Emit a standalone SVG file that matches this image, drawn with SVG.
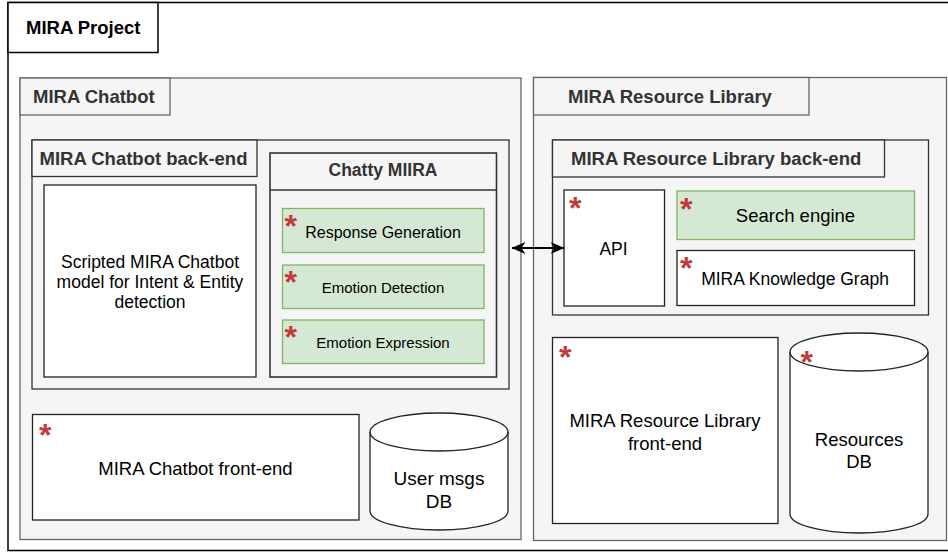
<svg xmlns="http://www.w3.org/2000/svg" width="948" height="552" viewBox="0 0 948 552">
<defs>
<style>
.cont{fill:#f5f5f5;stroke:#666;stroke-width:1.3}
.sub{fill:#f5f5f5;stroke:#333;stroke-width:1.3}
.box{fill:#fff;stroke:#222;stroke-width:1.3}
.green{fill:#d5e8d4;stroke:#82b366;stroke-width:1.3}
.title{font-family:"Liberation Sans",Arial,sans-serif;font-weight:bold;font-size:18.5px;fill:#333}
.lbl{font-family:"Liberation Sans",Arial,sans-serif;font-size:17.5px;fill:#000;text-anchor:middle}
.ast{font-family:"Liberation Sans",Arial,sans-serif;font-weight:bold;font-size:32px;fill:#c23a3a}
</style>
<marker id="arr" viewBox="0 0 14 12" refX="13.5" refY="6" markerWidth="14" markerHeight="12" markerUnits="userSpaceOnUse" orient="auto-start-reverse">
<path d="M0,0 L14,6 L0,12 L4,6 z" fill="#000"/>
</marker>
</defs>
<rect width="948" height="552" fill="#fff"/>

<g id="mira-project">
<rect x="8" y="2.5" width="950" height="548" fill="#fff" stroke="#000" stroke-width="1.5"/>
<rect x="8" y="2.5" width="150" height="50" fill="#fff" stroke="#000" stroke-width="1.5"/>
<text x="26" y="33.5" class="title" style="fill:#000">MIRA Project</text>
</g>

<g id="mira-chatbot">
<rect x="20" y="78" width="501" height="461.5" class="cont"/>
<rect x="20" y="78" width="150" height="37" class="cont"/>
<text x="33" y="102.5" class="title">MIRA Chatbot</text>
</g>

<g id="chatbot-backend">
<rect x="32" y="140" width="477" height="249" class="sub"/>
<rect x="32" y="140" width="225" height="36.5" class="sub"/>
<text x="39.5" y="164.5" class="title">MIRA Chatbot back-end</text>
</g>

<g id="scripted-model">
<rect x="44" y="185" width="212" height="192" class="box"/>
<text class="lbl" x="150" y="268">Scripted MIRA Chatbot</text>
<text class="lbl" x="150" y="288">model for Intent &amp; Entity</text>
<text class="lbl" x="150" y="308">detection</text>
</g>

<g id="chatty-miira">
<rect x="270" y="153" width="226.5" height="224" fill="#f5f5f5" stroke="#333" stroke-width="1.6"/>
<line x1="270" y1="190" x2="496.5" y2="190" stroke="#333" stroke-width="1.6"/>
<text x="383" y="176" class="title" style="font-size:17.5px;text-anchor:middle">Chatty MIIRA</text>
</g>

<g id="response-generation">
<rect x="282.5" y="208.5" width="201.5" height="44" class="green"/>
<text class="ast" x="284.5" y="237">*</text>
<text class="lbl" x="383" y="237.5" style="font-size:16px">Response Generation</text>
</g>

<g id="emotion-detection">
<rect x="282.5" y="265" width="201.5" height="43.5" class="green"/>
<text class="ast" x="284.5" y="293">*</text>
<text class="lbl" x="383" y="292.5" style="font-size:15px">Emotion Detection</text>
</g>

<g id="emotion-expression">
<rect x="282.5" y="320" width="201.5" height="43.5" class="green"/>
<text class="ast" x="284.5" y="348">*</text>
<text class="lbl" x="383" y="347.5" style="font-size:15px">Emotion Expression</text>
</g>

<g id="chatbot-frontend">
<rect x="32.5" y="414.5" width="326.5" height="105.5" class="box"/>
<text class="ast" x="39" y="445.5">*</text>
<text class="lbl" x="195.5" y="474.5" style="font-size:18.5px">MIRA Chatbot front-end</text>
</g>

<g id="user-msgs-db">
<path d="M370,432 L370,511 A69,19 0 0 0 508,511 L508,432 A69,19 0 0 0 370,432 Z" fill="#fff" stroke="#222" stroke-width="1.3"/>
<path d="M370,432 A69,19 0 0 0 508,432" fill="none" stroke="#222" stroke-width="1.3"/>
<text class="lbl" x="439" y="485" style="font-size:19px">User msgs</text>
<text class="lbl" x="439" y="507.5" style="font-size:19px">DB</text>
</g>

<g id="mira-resource-library">
<rect x="533.5" y="77.5" width="413" height="463" class="cont"/>
<rect x="533.5" y="77.5" width="275.5" height="37.5" class="cont"/>
<text x="568" y="102.5" class="title">MIRA Resource Library</text>
</g>

<g id="rl-backend">
<rect x="552.5" y="140" width="376" height="175" class="sub"/>
<rect x="552.5" y="140" width="332" height="37" class="sub"/>
<text x="571" y="164.5" class="title">MIRA Resource Library back-end</text>
</g>

<g id="api">
<rect x="564" y="190" width="100.5" height="116" class="box"/>
<text class="ast" x="569" y="218.5">*</text>
<text class="lbl" x="613.5" y="255">API</text>
</g>

<g id="search-engine">
<rect x="677" y="191" width="237.5" height="48.5" class="green"/>
<text class="ast" x="680" y="219.5">*</text>
<text class="lbl" x="795.5" y="222" style="font-size:18.5px">Search engine</text>
</g>

<g id="knowledge-graph">
<rect x="677" y="250.5" width="237.5" height="55" class="box"/>
<text class="ast" x="680" y="278.5">*</text>
<text class="lbl" x="795" y="285">MIRA Knowledge Graph</text>
</g>

<g id="rl-frontend">
<rect x="552.5" y="337.5" width="225.5" height="186" class="box"/>
<text class="ast" x="559" y="368">*</text>
<text class="lbl" x="665" y="427" style="font-size:18.5px">MIRA Resource Library</text>
<text class="lbl" x="665" y="449.5" style="font-size:18.5px">front-end</text>
</g>

<g id="resources-db">
<path d="M790,352 L790,514 A69,19 0 0 0 928,514 L928,352 A69,19 0 0 0 790,352 Z" fill="#fff" stroke="#222" stroke-width="1.3"/>
<path d="M790,352 A69,19 0 0 0 928,352" fill="none" stroke="#222" stroke-width="1.3"/>
<text class="ast" x="800.5" y="372.5">*</text>
<text class="lbl" x="859" y="446" style="font-size:18.5px">Resources</text>
<text class="lbl" x="859" y="468" style="font-size:18.5px">DB</text>
</g>

<g id="connectors">
<line x1="512" y1="248" x2="564" y2="248" stroke="#000" stroke-width="2" marker-start="url(#arr)" marker-end="url(#arr)"/>
</g>
</svg>
